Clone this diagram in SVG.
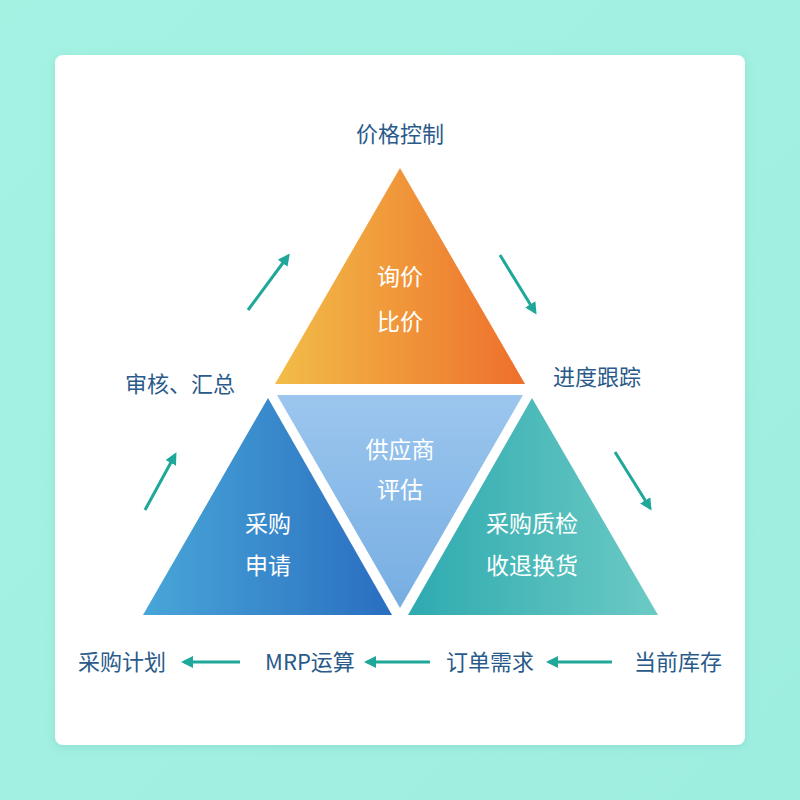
<svg xmlns="http://www.w3.org/2000/svg" width="800" height="800" viewBox="0 0 800 800">
<defs>
<linearGradient id="bg" x1="0" y1="0" x2="1" y2="1"><stop offset="0" stop-color="#a4f2e2"/><stop offset="1" stop-color="#9eeee0"/></linearGradient>
<linearGradient id="gO" x1="0" y1="0" x2="1" y2="0"><stop offset="0" stop-color="#f2bd48"/><stop offset="1" stop-color="#ee6f2c"/></linearGradient>
<linearGradient id="gB" x1="0" y1="0" x2="1" y2="0"><stop offset="0" stop-color="#48a6d8"/><stop offset="1" stop-color="#2a6ec0"/></linearGradient>
<linearGradient id="gT" x1="0" y1="0" x2="1" y2="0"><stop offset="0" stop-color="#2eaab0"/><stop offset="1" stop-color="#6ccac4"/></linearGradient>
<linearGradient id="gM" x1="0" y1="0" x2="0" y2="1"><stop offset="0" stop-color="#9cc6ee"/><stop offset="1" stop-color="#76aee2"/></linearGradient>
<filter id="sh" x="-10%" y="-10%" width="120%" height="120%"><feDropShadow dx="0" dy="2" stdDeviation="4" flood-color="#5aa" flood-opacity="0.25"/></filter>
<marker id="ah" markerWidth="12" markerHeight="12" refX="9" refY="6" orient="auto" markerUnits="userSpaceOnUse"><path d="M0,0 L12,6 L0,12 Z" fill="#1fa79a"/></marker>
<style>
.lbl{font-family:"Noto Sans CJK SC","Liberation Sans",sans-serif;font-size:22px;fill:#2a5a8a;text-anchor:middle}
.in{font-family:"Noto Sans CJK SC","Liberation Sans",sans-serif;font-size:23px;fill:#fff;text-anchor:middle}
.ar{stroke:#1fa79a;stroke-width:3;fill:none;marker-end:url(#ah)}
</style>
</defs>
<rect width="800" height="800" fill="url(#bg)"/>
<rect x="55" y="55" width="690" height="690" rx="8" fill="#fff" filter="url(#sh)"/>
<g id="top"><polygon points="400,168 525,384 275,384" fill="url(#gO)"/><text class="in" x="400" y="285">询价</text><text class="in" x="400" y="330">比价</text></g>
<g id="middle"><polygon points="277,395 523,395 400,608" fill="url(#gM)"/><text class="in" x="400" y="458">供应商</text><text class="in" x="400" y="498">评估</text></g>
<g id="left"><polygon points="268,398 392,615 143,615" fill="url(#gB)"/><text class="in" x="268" y="532">采购</text><text class="in" x="268" y="574">申请</text></g>
<g id="right"><polygon points="532,398 658,615 408,615" fill="url(#gT)"/><text class="in" x="532" y="532">采购质检</text><text class="in" x="532" y="574">收退换货</text></g>
<g id="labels">
<text class="lbl" x="400" y="142">价格控制</text>
<text class="lbl" x="180" y="392">审核、汇总</text>
<text class="lbl" x="597" y="385">进度跟踪</text>
<text class="lbl" x="122" y="670">采购计划</text>
<text class="lbl" x="310" y="670">MRP运算</text>
<text class="lbl" x="490" y="670">订单需求</text>
<text class="lbl" x="678" y="670">当前库存</text>
</g>
<g id="connectors">
<line class="ar" x1="248" y1="310" x2="288" y2="256"/>
<line class="ar" x1="145" y1="510" x2="175" y2="455"/>
<line class="ar" x1="500" y1="255" x2="535" y2="312"/>
<line class="ar" x1="615" y1="452" x2="650" y2="508"/>
<line class="ar" x1="240" y1="662" x2="184" y2="662"/>
<line class="ar" x1="430" y1="662" x2="367" y2="662"/>
<line class="ar" x1="612" y1="662" x2="549" y2="662"/>
</g>
</svg>
